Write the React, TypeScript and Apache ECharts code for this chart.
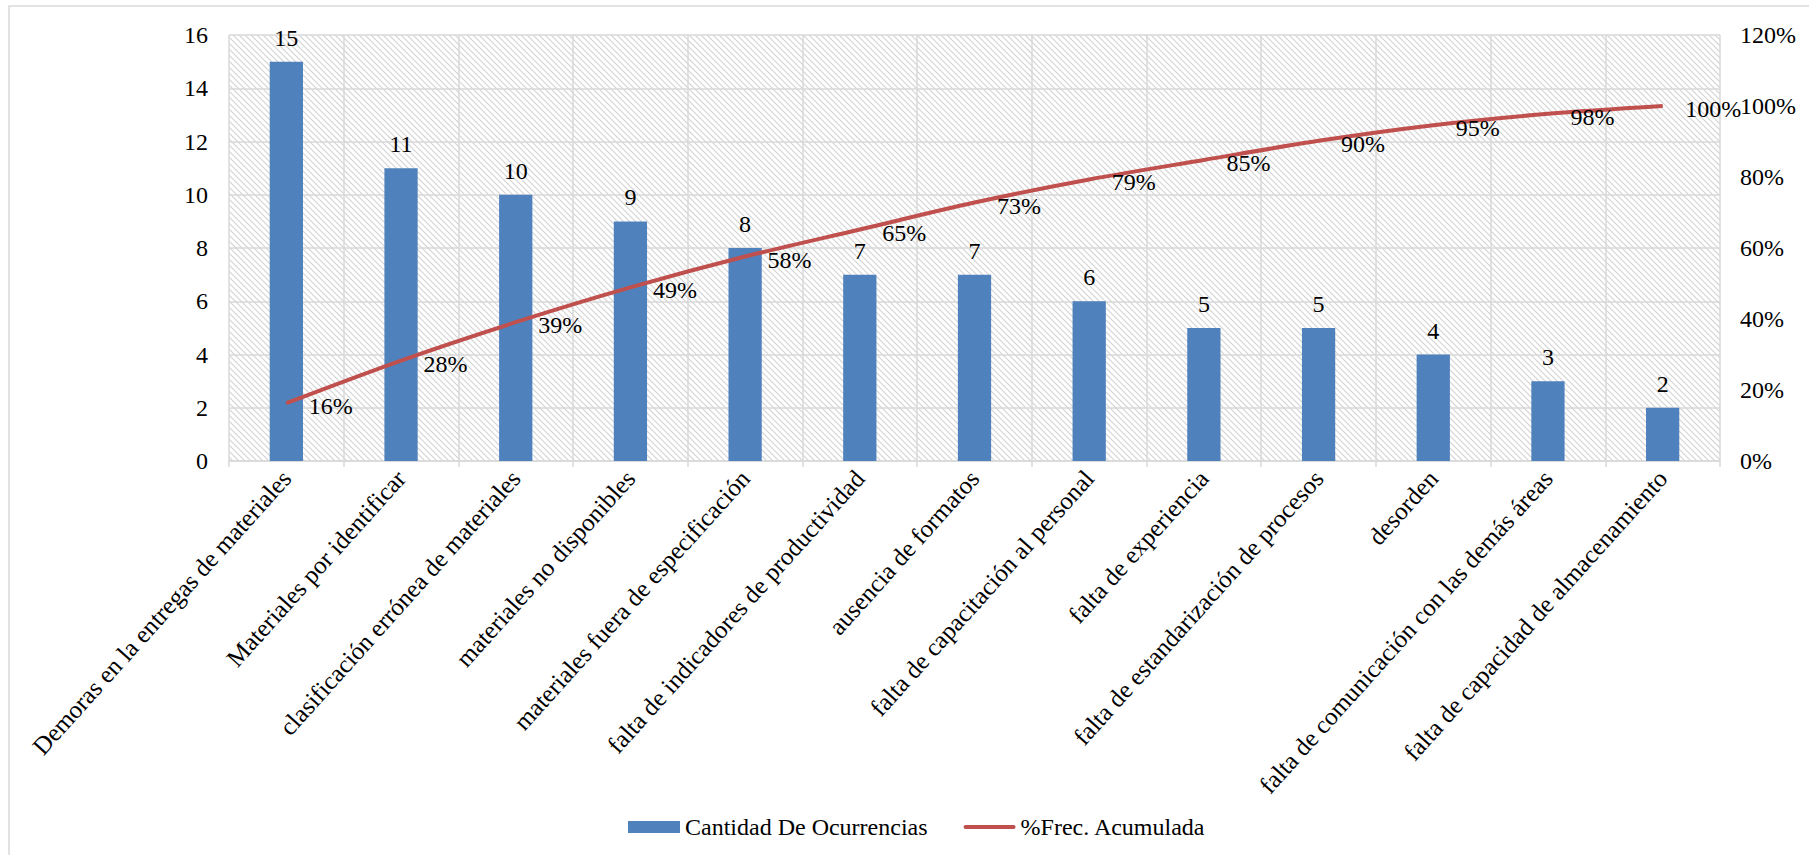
import React, { useEffect, useRef } from "react";
import * as echarts from "echarts";

const categories = [
  "Demoras en la entregas de materiales",
  "Materiales por identificar",
  "clasificación errónea de materiales",
  "materiales no disponibles",
  "materiales fuera de especificación",
  "falta de indicadores de productividad",
  "ausencia de formatos",
  "falta de capacitación al personal",
  "falta de experiencia",
  "falta de estandarización de procesos",
  "desorden",
  "falta de comunicación con las demás áreas",
  "falta de capacidad de almacenamiento",
];

const occurrences = [15, 11, 10, 9, 8, 7, 7, 6, 5, 5, 4, 3, 2];

const cumulativeShare = [
  0.163, 0.283, 0.391, 0.489, 0.576, 0.652, 0.728, 0.793, 0.848, 0.902, 0.946,
  0.978, 1.0,
];

const seriesNames = ["Cantidad De Ocurrencias", "%Frec. Acumulada"];

const FONT = "'Liberation Serif', 'Times New Roman', serif";

function makeHatch(): HTMLCanvasElement {
  const c = document.createElement("canvas");
  c.width = 6;
  c.height = 6;
  const ctx = c.getContext("2d")!;
  ctx.fillStyle = "#ffffff";
  ctx.fillRect(0, 0, 6, 6);
  ctx.strokeStyle = "#d2d2d2";
  ctx.lineWidth = 1.1;
  ctx.beginPath();
  ctx.moveTo(-1, -1);
  ctx.lineTo(7, 7);
  ctx.moveTo(-1, 5);
  ctx.lineTo(1, 7);
  ctx.moveTo(5, -1);
  ctx.lineTo(7, 1);
  ctx.stroke();
  return c;
}

export default function App() {
  const ref = useRef<HTMLDivElement>(null);

  useEffect(() => {
    if (!ref.current) return;
    const chart = echarts.init(ref.current, undefined, { renderer: "svg" });
    const hatch = makeHatch();
    const gridColor = "#d9d9d9";

    chart.setOption({
      animation: false,
      backgroundColor: "#ffffff",
      graphic: [
        {
          type: "rect",
          shape: { x: 9, y: 6, width: 1900, height: 1000 },
          style: { fill: "none", stroke: gridColor, lineWidth: 1.5 },
          z: -10,
          silent: true,
        },
      ],
      grid: {
        show: true,
        left: 229,
        right: 89,
        top: 35,
        bottom: 394,
        borderWidth: 0,
        backgroundColor: {
          image: hatch,
          repeat: "repeat",
          imageWidth: 6,
          imageHeight: 6,
        },
      },
      legend: {
        left: 623,
        top: 810,
        itemGap: 36,
        itemWidth: 52,
        itemHeight: 12,
        textStyle: { fontFamily: FONT, fontSize: 24, color: "#000" },
        data: [
          { name: seriesNames[0], icon: "rect" },
          {
            name: seriesNames[1],
            icon: "path://M2,0h48a2,2 0 0 1 0,4h-48a2,2 0 0 1 0,-4z",
          },
        ],
      },
      xAxis: {
        type: "category",
        data: categories,
        boundaryGap: true,
        axisLine: { lineStyle: { color: gridColor, width: 1.5 } },
        axisTick: {
          show: true,
          length: 6,
          lineStyle: { color: gridColor, width: 1.5 },
        },
        splitLine: { show: true, lineStyle: { color: gridColor, width: 1.5 } },
        axisLabel: {
          rotate: 48,
          interval: 0,
          margin: 13,
          fontFamily: FONT,
          fontSize: 25,
          color: "#000",
        },
      },
      yAxis: [
        {
          type: "value",
          min: 0,
          max: 16,
          interval: 2,
          axisLine: { show: false },
          axisTick: { show: false },
          splitLine: { show: true, lineStyle: { color: gridColor, width: 1.5 } },
          axisLabel: {
            margin: 21,
            fontFamily: FONT,
            fontSize: 24,
            color: "#000",
          },
        },
        {
          type: "value",
          min: 0,
          max: 1.2,
          interval: 0.2,
          axisLine: { show: false },
          axisTick: { show: false },
          splitLine: { show: false },
          axisLabel: {
            margin: 20,
            fontFamily: FONT,
            fontSize: 24,
            color: "#000",
            formatter: (v: number) => Math.round(v * 100) + "%",
          },
        },
      ],
      series: [
        {
          name: seriesNames[0],
          type: "bar",
          data: occurrences,
          barWidth: "29%",
          itemStyle: { color: "#4f81bd" },
          label: {
            show: true,
            position: "top",
            distance: 12,
            fontFamily: FONT,
            fontSize: 24,
            color: "#000",
          },
        },
        {
          name: seriesNames[1],
          type: "line",
          yAxisIndex: 1,
          data: cumulativeShare,
          smooth: 0.3,
          symbol: "circle",
          symbolSize: 1,
          showSymbol: true,
          itemStyle: { color: "#c0504d" },
          lineStyle: { color: "#c0504d", width: 4 },
          label: {
            show: true,
            position: "right",
            distance: 22,
            offset: [0, 3],
            fontFamily: FONT,
            fontSize: 24,
            color: "#000",
            formatter: (p: any) => Math.round(p.value * 100) + "%",
          },
          z: 3,
        },
      ],
    });

    return () => chart.dispose();
  }, []);

  return (
    <div
      ref={ref}
      style={{
        position: "absolute",
        left: 0,
        top: 0,
        width: 1809,
        height: 855,
      }}
    />
  );
}
